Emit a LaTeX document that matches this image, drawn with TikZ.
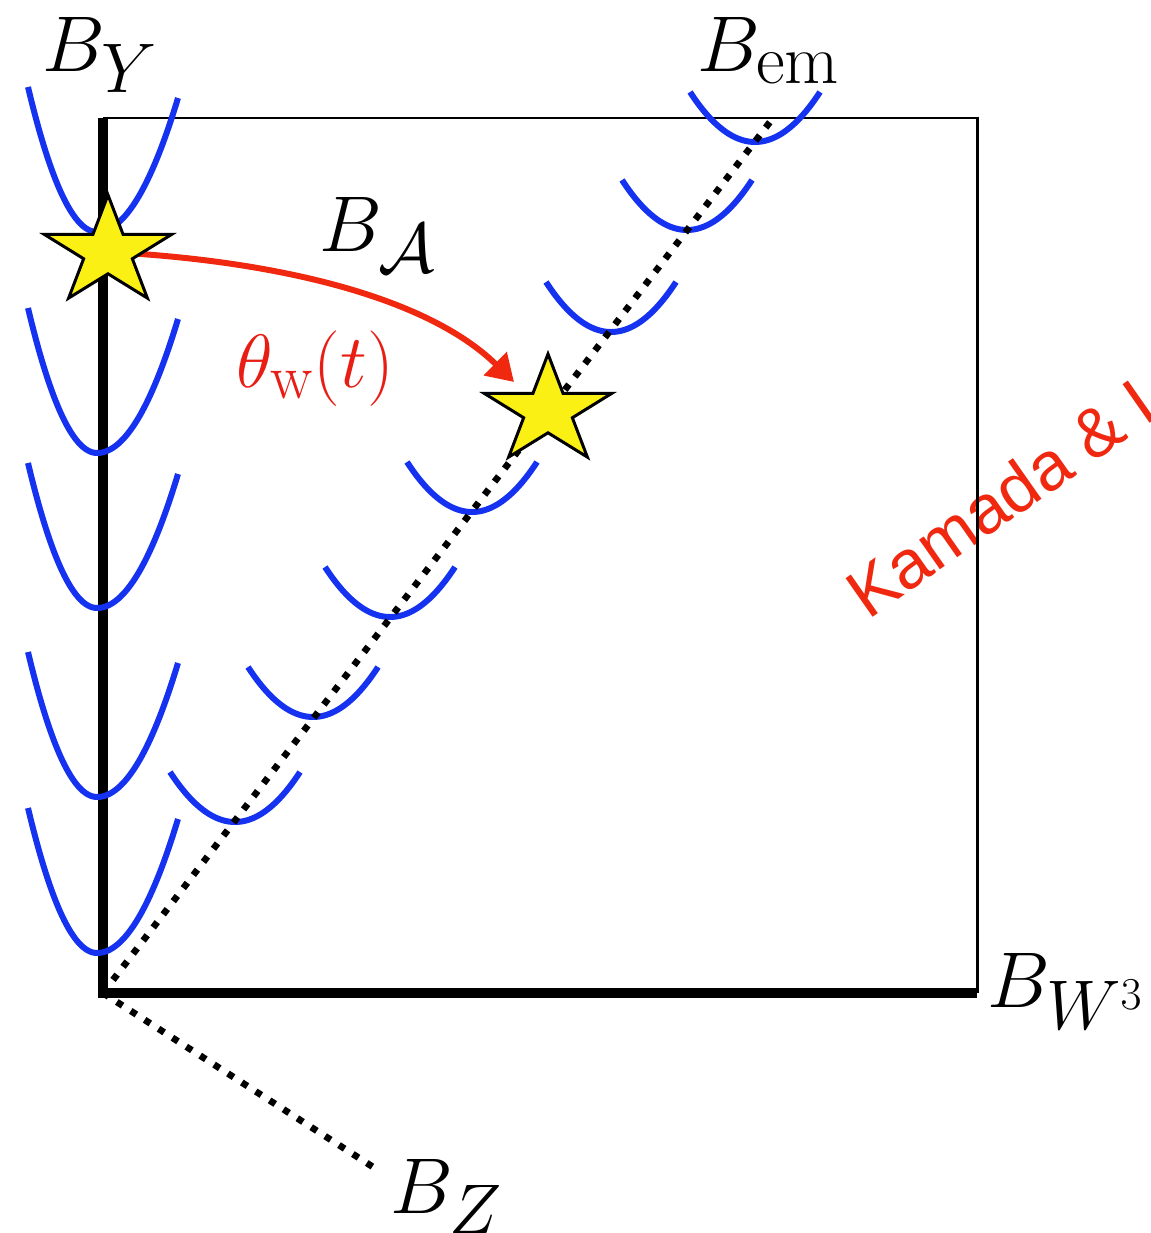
\documentclass[tikz,border=0pt]{standalone}
\usepackage{fix-cm}
\usepackage{fontspec}
\newfontfamily\kamfont{Liberation Sans}
\usetikzlibrary{arrows.meta}
\DeclareMathSizes{45}{45}{40}{26}
\DeclareMathSizes{43}{43}{36}{22}
\definecolor{parblue}{RGB}{20,50,240}
\definecolor{arrred}{RGB}{240,40,15}
\definecolor{thred}{RGB}{232,30,20}
\definecolor{staryel}{RGB}{250,240,20}
\tikzset{
  lbl/.style={inner sep=0pt, anchor=base west, font=\fontsize{45}{50}\selectfont},
  thlbl/.style={inner sep=0pt, anchor=base west, text=thred, font=\fontsize{43}{48}\selectfont},
  parab/.style={draw=parblue, line width=3.4pt},
  axisline/.style={line width=5.7pt, line join=miter},
  frameline/.style={line width=1.7pt, line join=miter},
  dotline/.style={line width=3.8pt, dash pattern=on 3.8pt off 5.6pt},
  starshape/.style={draw=black, fill=staryel, line width=1.7pt, line join=miter},
  kamtext/.style={inner sep=0pt, anchor=base west, text=arrred, font=\kamfont\fontsize{39}{42}\selectfont},
  flowarrow/.style={draw=arrred, line width=3.4pt, -{Triangle[length=15pt,width=18pt]}},
}
\begin{document}
\begin{tikzpicture}[x=0.02cm, y=-0.02cm]
  \path[use as bounding box, clip] (0,0) rectangle (1151,1233);
  \fill[white] (0,0) rectangle (1151,1233);

  % rotated red text, partly cut off at the right edge
  \node[kamtext, rotate=35] (kam) at (868,621) {Kamada \& L};

  % frame
  \coordinate (O) at (103,993);
  \coordinate (TL) at (103,118);
  \coordinate (TR) at (977,118);
  \coordinate (BR) at (977,993);
  \coordinate (em) at (773,118);
  \coordinate (zend) at (373,1167);
  \draw[frameline] (TL) -- (TR) -- (BR);
  \draw[axisline] (TL) -- (O) -- (BR);

  % parabolas along B_Y axis
  \foreach \v in {232,453,608,797,953}
    \draw[parab] plot[domain=-69:81, samples=61, smooth]
      ({97+\x},{\v-ifthenelse(\x<0,145*(\x/69)*(\x/69),134*(\x/81)*(\x/81))});

  % parabolas along diagonal
  \foreach \cx/\cy in {235/822,313/717,390/617,472/512,611/332,687/230,755/142}
    \draw[parab] plot[domain=-65:65, samples=41, smooth]
      ({\cx+\x},{\cy-50*(\x/65)*(\x/65)});

  % dotted directions
  \draw[dotline] (O) -- (em);
  \draw[dotline] (O) -- (zend);

  % arrow
  \coordinate (s1c) at (108,252);
  \coordinate (s2c) at (548,411);
  \coordinate (tip) at (514,382);
  \draw[flowarrow] (s1c) .. controls (270,260) and (425,295) .. (tip);

  % stars
  \foreach \c in {s1c,s2c}{
    \begin{scope}[shift={(\c)}]
      \filldraw[starshape] plot[samples at={0,1,...,9}]
        ({ifthenelse(mod(\x,2)==0,67,25.6)*cos(90+36*\x)},
         {-ifthenelse(mod(\x,2)==0,57,21.8)*sin(90+36*\x)}) -- cycle;
    \end{scope}
  }

  % labels
  \node[lbl] (by) at (42,72) {$B_Y$};
  \node[lbl] (bem) at (697,72) {$B_{\mathrm{em}}$};
  \node[lbl] (ba) at (319,252) {$B_{\mathcal{A}}$};
  \node[thlbl] (th) at (236,387) {$\theta_{\mathrm{w}}(t)$};
  \node[lbl] (bw) at (987,1007) {$B_{W^3}$};
  \node[lbl] (bz) at (390,1213) {$B_Z$};
\end{tikzpicture}
\end{document}
